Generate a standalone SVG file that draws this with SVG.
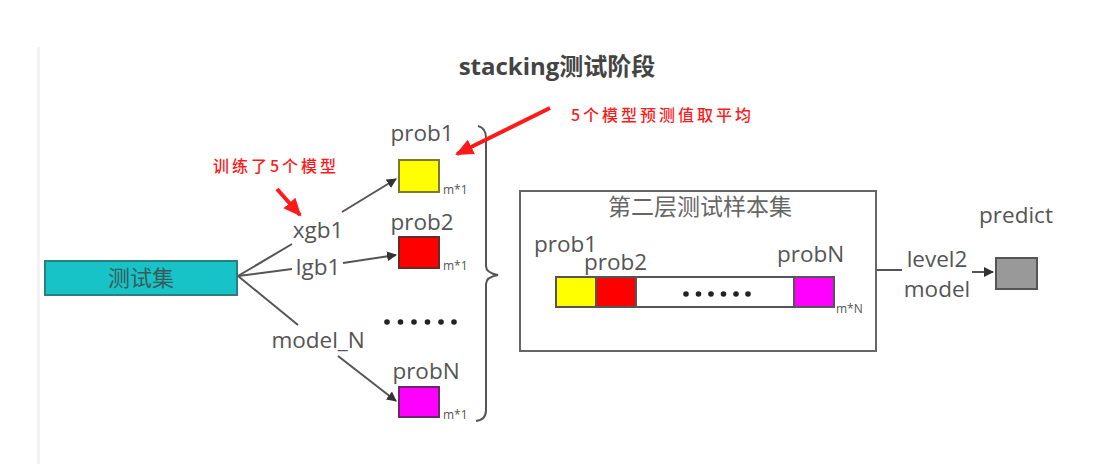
<svg xmlns="http://www.w3.org/2000/svg" width="1108" height="464" viewBox="0 0 1108 464">
<defs>
<style>
.t{font-family:"Open Sans","Noto Sans CJK SC",sans-serif;fill:#555;font-size:22.5px}
.s{font-family:"Open Sans",sans-serif;fill:#555;font-size:12px}
.cn{font-family:"Noto Sans CJK SC",sans-serif;fill:#666;font-size:23px}
.red{font-family:"Noto Sans CJK SC",sans-serif;fill:#ff1a1a;font-size:16px;letter-spacing:3px;font-weight:500}
.ln{stroke:#555;stroke-width:2;fill:none}
.rl{stroke:#ff1a1a;stroke-width:4;fill:none}
.dot{fill:#222}
</style>
<marker id="ah" markerWidth="10" markerHeight="10" refX="9" refY="5" orient="auto" markerUnits="userSpaceOnUse" viewBox="0 0 10 10">
<path d="M0,0 L10,5 L0,10 z" fill="#333"/>
</marker>
<marker id="rh" markerWidth="18" markerHeight="18" refX="16" refY="9" orient="auto" markerUnits="userSpaceOnUse" viewBox="0 0 18 18">
<path d="M0,1 L18,9 L0,17 z" fill="#ff1a1a"/>
</marker>
</defs>
<rect width="1108" height="464" fill="#fff"/>
<line x1="38.5" y1="47" x2="38.5" y2="464" stroke="#f3f3f3" stroke-width="3"/>
<text x="557" y="75" text-anchor="middle" font-family="'Open Sans','Noto Sans CJK SC',sans-serif" font-weight="bold" font-size="24" fill="#444">stacking测试阶段</text>

<g id="connectors">
<line class="ln" x1="238" y1="276" x2="292" y2="244"/>
<line class="ln" x1="238" y1="276" x2="292" y2="269"/>
<line class="ln" x1="238" y1="276" x2="298" y2="325"/>
<line class="ln" x1="342" y1="212" x2="396" y2="179" marker-end="url(#ah)"/>
<line class="ln" x1="343" y1="263" x2="396" y2="255" marker-end="url(#ah)"/>
<line class="ln" x1="338" y1="356" x2="396" y2="401" marker-end="url(#ah)"/>
<path class="ln" d="M478,126 Q486,128 486,138 L486,266 Q486,273 498,275 Q486,277 486,284 L486,410 Q486,420 476,421"/>
<line class="ln" x1="876" y1="270" x2="902" y2="270"/>
<line class="ln" x1="972" y1="272" x2="993" y2="272" marker-end="url(#ah)"/>
<line class="rl" x1="550" y1="108" x2="457" y2="154" marker-end="url(#rh)"/>
<line class="rl" x1="277" y1="189" x2="300" y2="215" marker-end="url(#rh)"/>
</g>

<g id="testset">
<rect x="45" y="261" width="192" height="34" fill="#17c3c6" stroke="#2a7f80" stroke-width="2"/>
<text class="cn" x="141" y="286" text-anchor="middle" style="fill:#3a5a5a;font-size:22px">测试集</text>
</g>

<g id="models">
<text class="t" x="318" y="238" text-anchor="middle">xgb1</text>
<text class="t" x="318" y="275" text-anchor="middle">lgb1</text>
<text class="t" x="318" y="348" text-anchor="middle">model_N</text>
</g>

<g id="prob1">
<text class="t" x="422" y="141" text-anchor="middle">prob1</text>
<rect x="399" y="160" width="40" height="32" fill="#ffff00" stroke="#7a7a30" stroke-width="2"/>
<text class="s" x="443" y="194">m*1</text>
</g>
<g id="prob2">
<text class="t" x="422" y="230" text-anchor="middle">prob2</text>
<rect x="399" y="237" width="40" height="31" fill="#ff0000" stroke="#6a2a2a" stroke-width="2"/>
<text class="s" x="443" y="270">m*1</text>
</g>
<g id="dots1">
<circle class="dot" cx="387" cy="322" r="2.8"/>
<circle class="dot" cx="400.5" cy="322" r="2.8"/>
<circle class="dot" cx="414" cy="322" r="2.8"/>
<circle class="dot" cx="427.5" cy="322" r="2.8"/>
<circle class="dot" cx="441" cy="322" r="2.8"/>
<circle class="dot" cx="454" cy="322" r="2.8"/>
</g>
<g id="probN">
<text class="t" x="426" y="379" text-anchor="middle">probN</text>
<rect x="399" y="387" width="40" height="30" fill="#ff00ff" stroke="#6a2a6a" stroke-width="2"/>
<text class="s" x="443" y="419">m*1</text>
</g>

<g id="level2set">
<rect x="520" y="191" width="356" height="160" fill="#fff" stroke="#666" stroke-width="2"/>
<text class="cn" x="700" y="215" text-anchor="middle">第二层测试样本集</text>
<text class="t" x="534" y="252">prob1</text>
<text class="t" x="584" y="270">prob2</text>
<text class="t" x="777" y="262">probN</text>
<rect x="556" y="277" width="278" height="30" fill="#fff" stroke="#555" stroke-width="2"/>
<rect x="556" y="277" width="40" height="30" fill="#ffff00" stroke="#555" stroke-width="2"/>
<rect x="596" y="277" width="40" height="30" fill="#ff0000" stroke="#555" stroke-width="2"/>
<rect x="794" y="277" width="40" height="30" fill="#ff00ff" stroke="#555" stroke-width="2"/>
<circle class="dot" cx="686" cy="294" r="2.8"/>
<circle class="dot" cx="698.5" cy="294" r="2.8"/>
<circle class="dot" cx="711" cy="294" r="2.8"/>
<circle class="dot" cx="723.5" cy="294" r="2.8"/>
<circle class="dot" cx="736" cy="294" r="2.8"/>
<circle class="dot" cx="748" cy="294" r="2.8"/>
<text class="s" x="836" y="313">m*N</text>
</g>

<g id="level2model">
<text class="t" x="937" y="267" text-anchor="middle">level2</text>
<text class="t" x="937" y="297" text-anchor="middle">model</text>
</g>

<g id="predict">
<text class="t" x="1016" y="223" text-anchor="middle">predict</text>
<rect x="996" y="258" width="41" height="31" fill="#999" stroke="#555" stroke-width="2"/>
</g>

<g id="annotations">
<text class="red" x="571" y="121">5个模型预测值取平均</text>
<text class="red" x="213" y="172">训练了5个模型</text>
</g>
</svg>
